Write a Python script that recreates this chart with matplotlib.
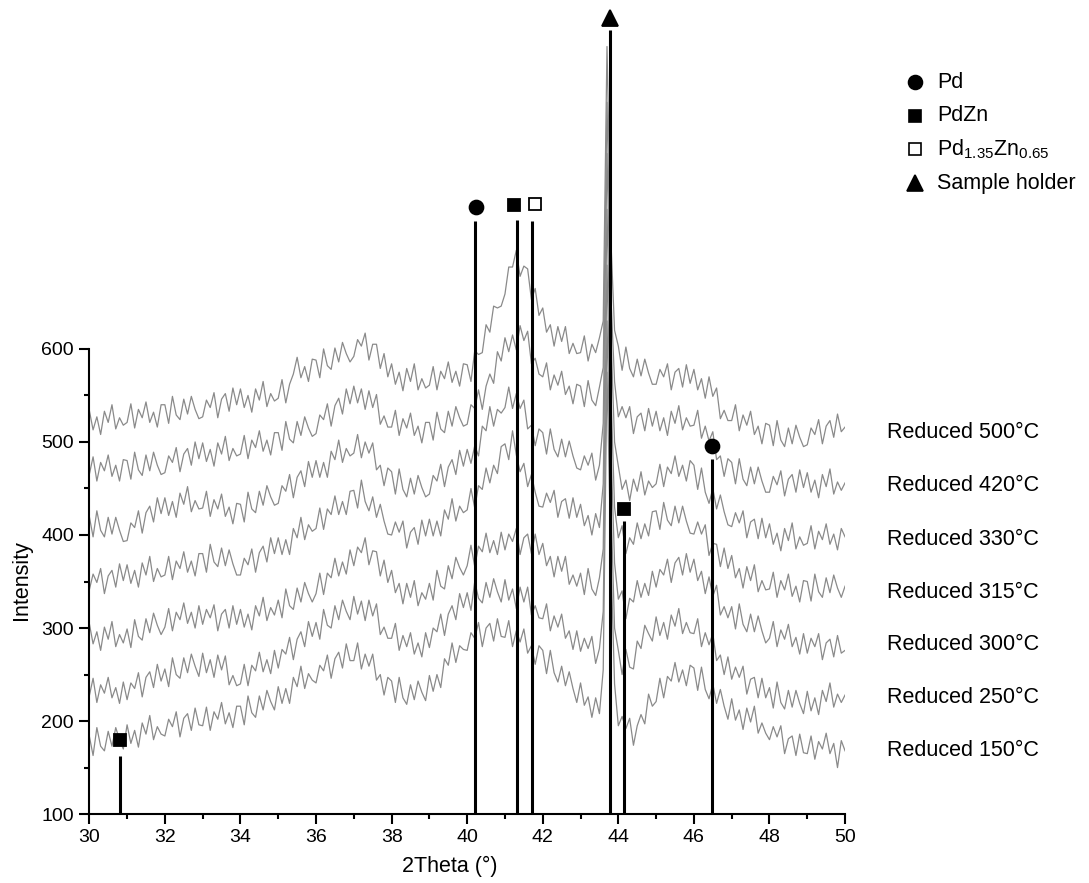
import numpy as np
import matplotlib
matplotlib.use("Agg")
import matplotlib.pyplot as plt
from matplotlib.ticker import MultipleLocator, FixedLocator

plt.rcParams["font.family"] = ["Liberation Sans", "DejaVu Sans"]
plt.rcParams["mathtext.fontset"] = "custom"
plt.rcParams["mathtext.rm"] = "Liberation Sans"

# 2theta grid, 0.1 deg steps from 30 to 50
two_theta = np.round(np.linspace(30, 50, 201), 1)

# intensities (already offset as plotted), one row per degree
r500 = [534, 513, 527, 508, 533, 521, 540, 514, 526, 518,
        521, 541, 515, 535, 526, 543, 521, 532, 516, 540,
        540, 520, 549, 529, 524, 546, 530, 549, 535, 525,
        527, 545, 537, 553, 526, 546, 552, 533, 558, 540,
        557, 537, 550, 532, 557, 545, 565, 538, 552, 544,
        547, 567, 542, 562, 573, 591, 569, 581, 565, 589,
        588, 569, 600, 582, 578, 601, 586, 607, 595, 586,
        592, 610, 603, 617, 588, 605, 605, 579, 595, 570,
        584, 562, 575, 555, 579, 565, 584, 556, 568, 558,
        561, 581, 556, 576, 568, 586, 564, 576, 560, 584,
        583, 565, 598, 594, 596, 626, 618, 646, 644, 646,
        659, 688, 688, 706, 678, 689, 686, 653, 665, 636,
        644, 618, 626, 603, 624, 608, 624, 595, 606, 595,
        596, 614, 587, 605, 596, 612, 630, 925, 720, 620,
        603, 577, 602, 579, 570, 589, 571, 589, 574, 562,
        562, 578, 570, 584, 556, 575, 579, 559, 583, 563,
        578, 556, 568, 547, 570, 549, 558, 525, 534, 523,
        523, 540, 512, 529, 518, 533, 508, 517, 498, 520,
        518, 496, 523, 502, 495, 515, 498, 518, 505, 495,
        497, 515, 508, 524, 498, 517, 523, 505, 530, 511,
        516]
r420 = [465, 484, 458, 478, 469, 486, 463, 475, 458, 481,
        480, 460, 489, 470, 464, 486, 469, 489, 475, 465,
        467, 485, 478, 494, 468, 487, 493, 475, 500, 482,
        499, 479, 492, 474, 499, 487, 506, 480, 493, 485,
        487, 507, 482, 502, 494, 512, 490, 502, 486, 510,
        510, 491, 522, 503, 499, 522, 507, 527, 515, 506,
        509, 529, 524, 541, 517, 539, 547, 530, 557, 541,
        560, 542, 557, 535, 555, 537, 551, 519, 528, 516,
        516, 534, 507, 525, 515, 531, 507, 517, 499, 521,
        521, 502, 532, 514, 510, 533, 517, 538, 526, 517,
        519, 540, 536, 556, 535, 560, 573, 563, 597, 587,
        612, 597, 615, 599, 625, 609, 619, 584, 590, 573,
        570, 585, 556, 572, 561, 576, 551, 560, 541, 562,
        560, 538, 566, 545, 539, 559, 580, 865, 660, 565,
        527, 538, 526, 538, 509, 527, 531, 512, 536, 517,
        533, 512, 526, 507, 533, 520, 539, 513, 526, 517,
        518, 534, 504, 517, 501, 511, 481, 485, 463, 482,
        478, 455, 482, 460, 453, 473, 455, 473, 458, 446,
        446, 463, 454, 469, 442, 460, 465, 446, 470, 451,
        467, 446, 459, 440, 465, 452, 471, 444, 457, 448,
        456]
r330 = [420, 398, 426, 405, 398, 419, 401, 419, 405, 393,
        394, 413, 408, 426, 402, 424, 431, 414, 440, 423,
        440, 421, 436, 419, 445, 433, 452, 425, 437, 428,
        429, 447, 420, 438, 428, 444, 420, 430, 412, 434,
        433, 414, 446, 428, 424, 447, 432, 453, 441, 432,
        434, 453, 447, 465, 440, 462, 469, 452, 479, 462,
        480, 462, 478, 462, 490, 481, 502, 478, 493, 485,
        488, 508, 483, 500, 488, 499, 470, 475, 453, 472,
        468, 444, 471, 449, 441, 461, 444, 464, 451, 441,
        444, 464, 458, 476, 452, 473, 481, 465, 491, 474,
        492, 477, 496, 485, 517, 512, 538, 517, 535, 531,
        537, 559, 536, 552, 536, 545, 514, 518, 496, 514,
        510, 487, 514, 492, 484, 503, 484, 501, 485, 472,
        470, 485, 475, 488, 459, 475, 520, 810, 620, 500,
        474, 449, 459, 437, 460, 447, 468, 443, 458, 451,
        455, 476, 452, 473, 466, 485, 463, 475, 458, 480,
        475, 449, 472, 446, 434, 450, 428, 443, 425, 411,
        409, 424, 413, 426, 397, 414, 417, 396, 418, 397,
        412, 390, 402, 383, 407, 394, 413, 385, 398, 389,
        391, 410, 385, 404, 395, 412, 390, 401, 384, 407,
        398]
r315 = [341, 358, 349, 364, 337, 356, 362, 344, 369, 351,
        368, 348, 362, 344, 370, 357, 377, 350, 364, 355,
        357, 377, 352, 372, 364, 382, 360, 372, 356, 380,
        380, 360, 390, 371, 366, 386, 367, 384, 369, 357,
        357, 375, 368, 385, 360, 381, 388, 371, 397, 380,
        397, 379, 395, 379, 407, 397, 419, 395, 411, 404,
        407, 429, 406, 428, 422, 442, 422, 436, 422, 447,
        448, 429, 459, 436, 426, 441, 419, 433, 415, 401,
        400, 414, 403, 415, 386, 403, 408, 390, 416, 399,
        417, 399, 415, 399, 427, 417, 439, 415, 431, 424,
        427, 450, 429, 453, 449, 472, 456, 475, 466, 495,
        498, 481, 512, 486, 468, 477, 452, 465, 446, 431,
        430, 445, 435, 448, 419, 436, 439, 418, 440, 419,
        433, 410, 421, 400, 423, 408, 455, 750, 560, 430,
        397, 410, 380, 397, 390, 413, 396, 412, 399, 425,
        426, 406, 435, 416, 410, 431, 413, 431, 415, 402,
        401, 414, 401, 411, 378, 391, 390, 366, 386, 364,
        378, 354, 364, 343, 366, 351, 368, 339, 351, 341,
        342, 360, 333, 351, 341, 358, 334, 345, 328, 351,
        350, 329, 358, 339, 333, 354, 338, 357, 343, 333,
        345]
r300 = [305, 283, 296, 276, 301, 288, 307, 280, 293, 284,
        299, 279, 309, 291, 287, 310, 295, 316, 303, 293,
        301, 321, 297, 317, 309, 327, 305, 317, 300, 324,
        304, 320, 311, 325, 297, 315, 320, 300, 324, 304,
        320, 301, 315, 298, 324, 313, 333, 308, 322, 314,
        330, 311, 342, 324, 320, 343, 328, 349, 337, 328,
        337, 359, 336, 359, 354, 375, 356, 371, 358, 384,
        367, 387, 381, 397, 368, 383, 382, 356, 373, 349,
        362, 338, 348, 326, 348, 333, 351, 324, 338, 331,
        348, 330, 362, 345, 342, 367, 353, 376, 365, 357,
        367, 389, 366, 388, 382, 402, 381, 394, 379, 403,
        384, 401, 393, 407, 379, 397, 401, 380, 401, 379,
        391, 367, 377, 355, 377, 361, 377, 347, 357, 345,
        359, 336, 364, 342, 335, 354, 385, 690, 500, 370,
        331, 340, 310, 332, 328, 351, 333, 348, 335, 361,
        344, 363, 357, 374, 349, 370, 376, 357, 380, 360,
        374, 351, 361, 337, 355, 334, 346, 314, 323, 311,
        323, 299, 326, 304, 296, 315, 296, 313, 297, 284,
        289, 307, 280, 298, 288, 304, 280, 290, 272, 294,
        273, 289, 280, 294, 266, 284, 288, 269, 292, 273,
        276]
r250 = [227, 246, 220, 239, 230, 247, 225, 236, 219, 242,
        223, 241, 235, 252, 226, 247, 253, 236, 261, 243,
        256, 237, 268, 250, 246, 268, 252, 272, 259, 248,
        273, 252, 266, 247, 271, 255, 270, 239, 249, 238,
        240, 261, 238, 260, 254, 274, 253, 266, 251, 276,
        257, 277, 272, 290, 266, 288, 296, 280, 307, 291,
        306, 288, 320, 303, 300, 324, 309, 330, 318, 309,
        334, 315, 329, 308, 330, 313, 326, 293, 301, 289,
        289, 305, 276, 292, 280, 295, 272, 284, 269, 295,
        279, 300, 296, 315, 292, 315, 324, 309, 337, 322,
        338, 319, 350, 332, 327, 349, 333, 353, 339, 328,
        352, 330, 342, 321, 344, 328, 344, 314, 324, 311,
        310, 326, 297, 313, 301, 315, 289, 297, 277, 297,
        275, 289, 278, 291, 262, 278, 318, 630, 440, 300,
        276, 250, 277, 258, 256, 286, 278, 303, 294, 286,
        312, 292, 306, 288, 314, 302, 321, 294, 306, 295,
        294, 310, 280, 295, 282, 294, 265, 271, 250, 269,
        245, 258, 247, 259, 229, 245, 247, 225, 246, 225,
        236, 214, 242, 220, 213, 233, 215, 233, 219, 208,
        232, 211, 225, 207, 233, 221, 241, 215, 229, 220,
        228]
r150 = [184, 163, 193, 173, 168, 189, 173, 193, 180, 170,
        196, 176, 190, 172, 198, 186, 206, 180, 194, 186,
        184, 202, 194, 210, 183, 203, 208, 190, 214, 196,
        195, 215, 190, 210, 202, 220, 197, 209, 193, 216,
        216, 196, 227, 209, 204, 227, 212, 233, 221, 212,
        237, 219, 235, 219, 247, 237, 259, 235, 251, 244,
        241, 260, 254, 271, 246, 267, 274, 257, 283, 265,
        265, 284, 256, 272, 259, 272, 244, 250, 228, 247,
        243, 220, 247, 225, 218, 239, 223, 243, 231, 222,
        249, 232, 250, 236, 267, 260, 284, 263, 281, 277,
        276, 295, 289, 306, 280, 300, 305, 286, 310, 291,
        290, 308, 280, 297, 285, 299, 273, 281, 261, 281,
        276, 251, 276, 252, 242, 259, 238, 253, 235, 220,
        241, 217, 226, 204, 225, 208, 255, 575, 380, 240,
        195, 205, 192, 203, 174, 195, 207, 197, 229, 216,
        221, 246, 225, 248, 243, 263, 242, 255, 238, 260,
        257, 233, 258, 234, 224, 240, 219, 234, 216, 202,
        224, 201, 212, 191, 214, 199, 216, 187, 198, 187,
        180, 194, 183, 195, 165, 181, 184, 163, 186, 166,
        165, 184, 159, 178, 170, 187, 165, 176, 150, 179,
        168]

trace_names = ["Reduced 500°C", "Reduced 420°C", "Reduced 330°C", "Reduced 315°C",
               "Reduced 300°C", "Reduced 250°C", "Reduced 150°C"]
traces = [r500, r420, r330, r315, r300, r250, r150]
name_levels = [510, 453, 395, 338, 282, 225, 168]

# reference reflections: stick position, phase, stick top, symbol position
ref_pos = [30.8, 40.22, 41.31, 41.71, 43.77, 44.16, 46.49]
ref_phase = ["PdZn", "Pd", "PdZn", "Pd135", "holder", "PdZn", "Pd"]
ref_top = [163, 737, 739, 738, 943, 415, 482]
mark_pos = [30.8, 40.23, 41.24, 41.79, 43.77, 44.16, 46.49]
mark_val = [180, 752, 755, 756, 956, 428, 496]

phase_style = {
    "Pd": dict(marker="o", mfc="black", ms=10),
    "PdZn": dict(marker="s", mfc="black", ms=9),
    "Pd135": dict(marker="s", mfc="white", ms=8.5),
    "holder": dict(marker="^", mfc="black", ms=11),
}
legend_items = [("Pd", "Pd"), ("PdZn", "PdZn"),
                ("Pd135", r"Pd$_\mathregular{1.35}$Zn$_\mathregular{0.65}$"),
                ("holder", "Sample holder")]

fig = plt.figure(figsize=(10.89, 8.83), dpi=100)
ax = fig.add_axes([0.082, 0.078, 0.694, 0.922])

for vals in traces:
    assert len(vals) == len(two_theta)
    ax.plot(two_theta, vals, color="#8a8a8a", lw=0.9)

ax.vlines(ref_pos, 100, ref_top, colors="black", lw=2.2)
for xp, ph, ym in zip(mark_pos, ref_phase, mark_val):
    ax.plot([xp], [ym], ls="none", mec="black", mew=1.3, clip_on=False, **phase_style[ph])

for name, lev in zip(trace_names, name_levels):
    ax.text(53.12, lev, name, ha="center", va="center", fontsize=15.5, clip_on=False)

# legend drawn by hand in figure space
for i, (ph, lab) in enumerate(legend_items):
    yy = 1 - (82 + 33.7 * i) / 883
    ax.plot([915 / 1089], [yy], ls="none", mec="black", mew=1.2, transform=fig.transFigure,
            clip_on=False, **phase_style[ph])
    fig.text(937 / 1089, yy, lab, ha="left", va="center", fontsize=15.5)

ax.set_xlim(30, 50)
ax.set_ylim(100, 975)
ax.spines["top"].set_visible(False)
ax.spines["right"].set_visible(False)
ax.spines["left"].set_bounds(100, 600)
for s in ("left", "bottom"):
    ax.spines[s].set_linewidth(1.5)
ax.set_yticks(np.arange(100, 601, 100))
ax.yaxis.set_minor_locator(FixedLocator(np.arange(150, 600, 100)))
ax.xaxis.set_major_locator(MultipleLocator(2))
ax.xaxis.set_minor_locator(MultipleLocator(1))
ax.tick_params(which="major", direction="out", length=7, width=1.5, labelsize=14, pad=4)
ax.tick_params(which="minor", direction="out", length=3.5, width=1.5)
ax.set_ylabel("Intensity", fontsize=15.5)
ax.yaxis.set_label_coords(-0.076, 0.287)
ax.set_xlabel("2Theta (°)", fontsize=15.5)
ax.xaxis.set_label_coords(0.477, -0.051)

fig.savefig("out.png", dpi=100)
